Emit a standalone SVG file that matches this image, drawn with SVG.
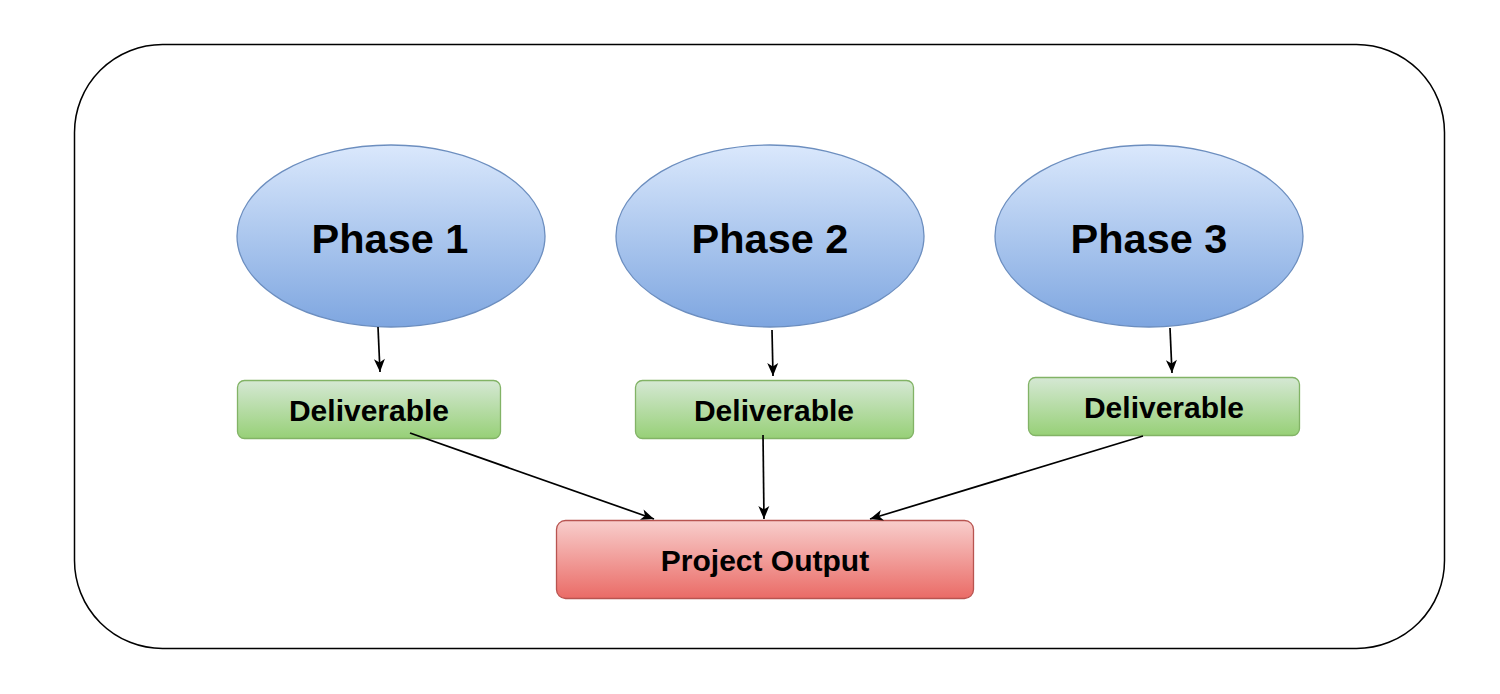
<svg xmlns="http://www.w3.org/2000/svg" width="1500" height="694" viewBox="0 0 1500 694">
<defs>
<linearGradient id="gBlue" x1="0" y1="0" x2="0" y2="1"><stop offset="0" stop-color="#dae8fc"/><stop offset="1" stop-color="#7ea6e0"/></linearGradient>
<linearGradient id="gGreen" x1="0" y1="0" x2="0" y2="1"><stop offset="0" stop-color="#d5e8d4"/><stop offset="1" stop-color="#97d077"/></linearGradient>
<linearGradient id="gRed" x1="0" y1="0" x2="0" y2="1"><stop offset="0" stop-color="#f8cecc"/><stop offset="1" stop-color="#ea6b66"/></linearGradient>
<marker id="arr" markerWidth="16" markerHeight="16" viewBox="0 0 16 16" refX="14" refY="8" orient="auto" markerUnits="userSpaceOnUse"><path d="M1,2.5 L14,8 L1,13.5 L4.5,8 Z" fill="#000"/></marker>
</defs>
<style>
.phase{fill:url(#gBlue);stroke:#6c8ebf;stroke-width:1.3}
.deliv{fill:url(#gGreen);stroke:#82b366;stroke-width:1.3}
.out{fill:url(#gRed);stroke:#b85450;stroke-width:1.3}
text{font-family:"Liberation Sans",Arial,sans-serif;font-weight:bold;fill:#000;text-anchor:middle;dominant-baseline:central}
.t1{font-size:41.5px}
.t2{font-size:30px}
.t3{font-size:30px}
.conn line{stroke:#000;stroke-width:1.7;marker-end:url(#arr)}
</style>
<rect id="frame" x="74.5" y="44.5" width="1370" height="604" rx="88" ry="88" fill="#fff" stroke="#000" stroke-width="1.5"/>
<g id="phase1"><ellipse class="phase" cx="391" cy="236" rx="154" ry="91"/><text class="t1" x="390" y="238">Phase 1</text></g>
<g id="phase2"><ellipse class="phase" cx="770" cy="236" rx="154" ry="91"/><text class="t1" x="770" y="238">Phase 2</text></g>
<g id="phase3"><ellipse class="phase" cx="1149" cy="236" rx="154" ry="91"/><text class="t1" x="1149" y="238">Phase 3</text></g>
<g id="deliv1"><rect class="deliv" x="237.5" y="380.5" width="263" height="58" rx="7"/><text class="t2" x="369" y="410">Deliverable</text></g>
<g id="deliv2"><rect class="deliv" x="635.5" y="380.5" width="278" height="58" rx="7"/><text class="t2" x="774" y="410">Deliverable</text></g>
<g id="deliv3"><rect class="deliv" x="1028.5" y="377.5" width="271" height="58" rx="7"/><text class="t2" x="1164" y="407">Deliverable</text></g>
<g id="output"><rect class="out" x="556.5" y="520.5" width="417" height="78" rx="9"/><text class="t3" x="765" y="560">Project Output</text></g>
<g id="connectors" class="conn">
<line x1="378" y1="327" x2="380" y2="372"/>
<line x1="772" y1="330" x2="773" y2="376"/>
<line x1="1170" y1="328" x2="1172" y2="373"/>
<line x1="410" y1="433" x2="654" y2="519"/>
<line x1="763" y1="435" x2="764" y2="519"/>
<line x1="1143" y1="436" x2="870" y2="519"/>
</g>
</svg>
